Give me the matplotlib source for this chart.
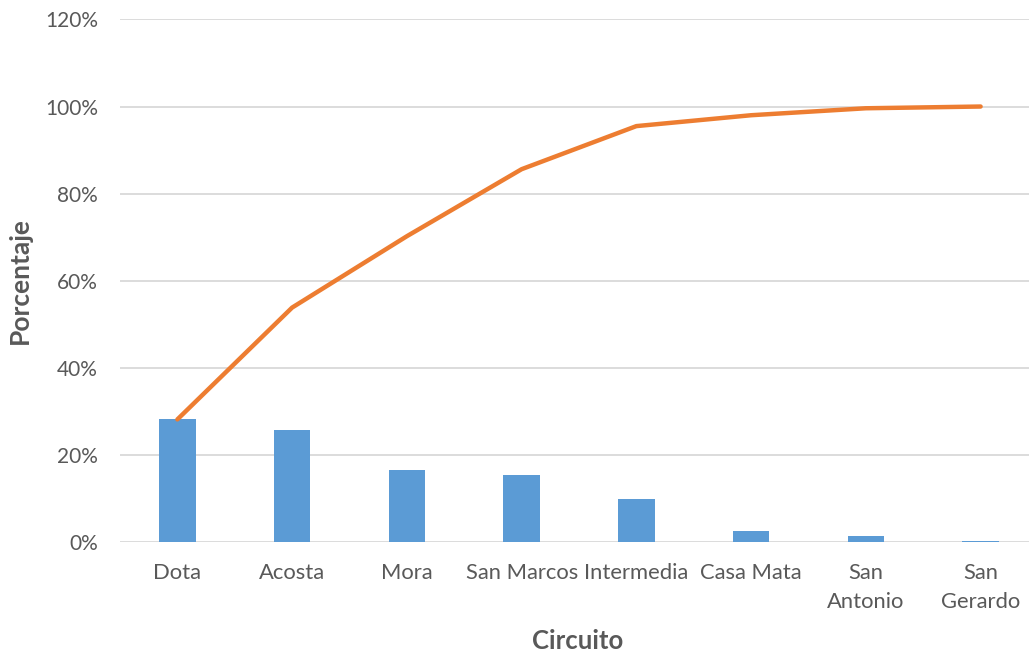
import matplotlib.pyplot as plt
from matplotlib.ticker import FuncFormatter

circuitos = ["Dota", "Acosta", "Mora", "San Marcos", "Intermedia", "Casa Mata", "San\nAntonio", "San\nGerardo"]
porcentaje = [28.1, 25.7, 16.4, 15.4, 9.8, 2.5, 1.4, 0.2]
acumulado = [28.1, 53.8, 70.2, 85.6, 95.5, 98.0, 99.6, 100.0]

plt.rcParams['font.family'] = ['Lato', 'DejaVu Sans']
gris = '#595959'

fig = plt.figure(figsize=(10.29, 6.54), dpi=100)
ax = fig.add_axes([120/1029, 0.1717, 918/1029, 0.7985])

x = range(len(circuitos))
ax.bar(x, porcentaje, width=0.32, color='#5B9BD5', zorder=2)
ax.plot(x, acumulado, color='#ED7D31', lw=3.2, solid_capstyle='round', zorder=3)

ax.set_xlim(-0.5, len(circuitos) - 0.5)
ax.set_ylim(0, 120)
ax.set_yticks(range(0, 121, 20))
ax.yaxis.set_major_formatter(FuncFormatter(lambda v, p: f"{v:.0f}%"))
ax.set_xticks(list(x))
ax.set_xticklabels(circuitos, linespacing=1.6)
ax.grid(axis='y', color='#D9D9D9', lw=1.3, zorder=0)
for s in ax.spines.values():
    s.set_visible(False)
ax.tick_params(axis='both', length=0, labelcolor=gris)
ax.tick_params(axis='x', pad=15, labelsize=15.8)
ax.tick_params(axis='y', pad=16, labelsize=15)

fig.text(20/1029, 1 - 281/654, "Porcentaje", rotation=90, ha='center', va='center',
         fontsize=19, fontweight='bold', color=gris)
fig.text(578/1029, 1 - 641/654, "Circuito", ha='center', va='center',
         fontsize=18.5, fontweight='bold', color=gris)

fig.savefig("out.png", dpi=100)
